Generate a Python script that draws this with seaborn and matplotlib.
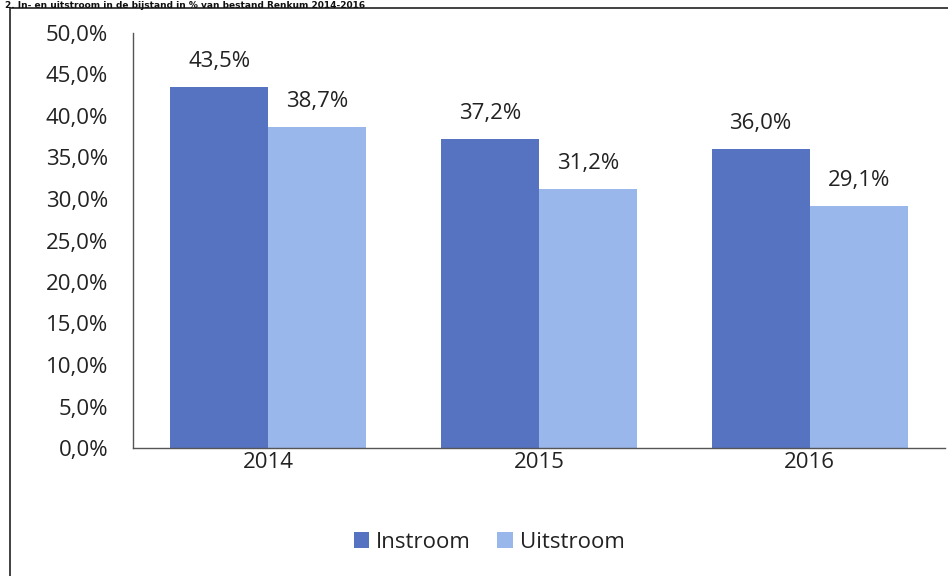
import matplotlib
matplotlib.use("Agg")
import matplotlib.pyplot as plt
import seaborn as sns
import pandas as pd
from matplotlib.patches import Rectangle
from matplotlib.ticker import FuncFormatter

years = ["2014", "2015", "2016"]
instroom = [43.5, 37.2, 36.0]
uitstroom = [38.7, 31.2, 29.1]
series_names = ["Instroom", "Uitstroom"]
colors = ["#5673C2", "#99B7EA"]
title = "2. In- en uitstroom in de bijstand in % van bestand Renkum 2014-2016"

df = pd.DataFrame({
    "jaar": years * 2,
    "waarde": instroom + uitstroom,
    "reeks": [series_names[0]] * 3 + [series_names[1]] * 3,
})

sns.set_theme(style="white")
plt.rcParams["font.family"] = ["Open Sans", "DejaVu Sans"]

FS = 16
fig = plt.figure(figsize=(9.48, 5.76), dpi=100)
ax = fig.add_axes([133 / 948, 1 - 448 / 576, (945 - 133) / 948, (448 - 33) / 576])

sns.barplot(data=df, x="jaar", y="waarde", hue="reeks", palette=colors,
            width=0.724, ax=ax, saturation=1, legend=True, linewidth=0)

for cont in ax.containers:
    ax.bar_label(cont, labels=[f"{v:.1f}%".replace(".", ",") for v in cont.datavalues],
                 padding=11, fontsize=FS, color="#222222")

ax.set_ylim(0, 50)
ax.set_yticks(range(0, 51, 5))
ax.yaxis.set_major_formatter(FuncFormatter(lambda v, p: f"{v:.1f}%".replace(".", ",")))
ax.set_xlabel("")
ax.set_ylabel("")
ax.tick_params(axis="y", length=0, pad=18, labelsize=FS, labelcolor="#222222")
ax.tick_params(axis="x", length=0, pad=3, labelsize=FS, labelcolor="#222222")
for s in ["top", "right"]:
    ax.spines[s].set_visible(False)
for s in ["left", "bottom"]:
    ax.spines[s].set_color("#555555")
    ax.spines[s].set_linewidth(1.0)

leg = ax.legend(loc="center", bbox_to_anchor=(489 / 948, 1 - 542 / 576),
                bbox_transform=fig.transFigure, ncol=2, frameon=False,
                fontsize=FS, handlelength=0.7, handleheight=0.7,
                handletextpad=0.3, columnspacing=1.2)
for t in leg.get_texts():
    t.set_color("#222222")

# outer frame
fig.patches.append(Rectangle((10 / 948, -0.05), 1.2, (1 - 8 / 576) + 0.05,
                             transform=fig.transFigure, fill=False,
                             edgecolor="#333333", linewidth=1.3, zorder=0))

fig.text(0.005, 1 - 0.5 / 576, title, ha="left", va="top", fontsize=6.5,
         fontweight="bold", color="#111111", family=["DejaVu Sans"])

fig.savefig("out.png", dpi=100)
